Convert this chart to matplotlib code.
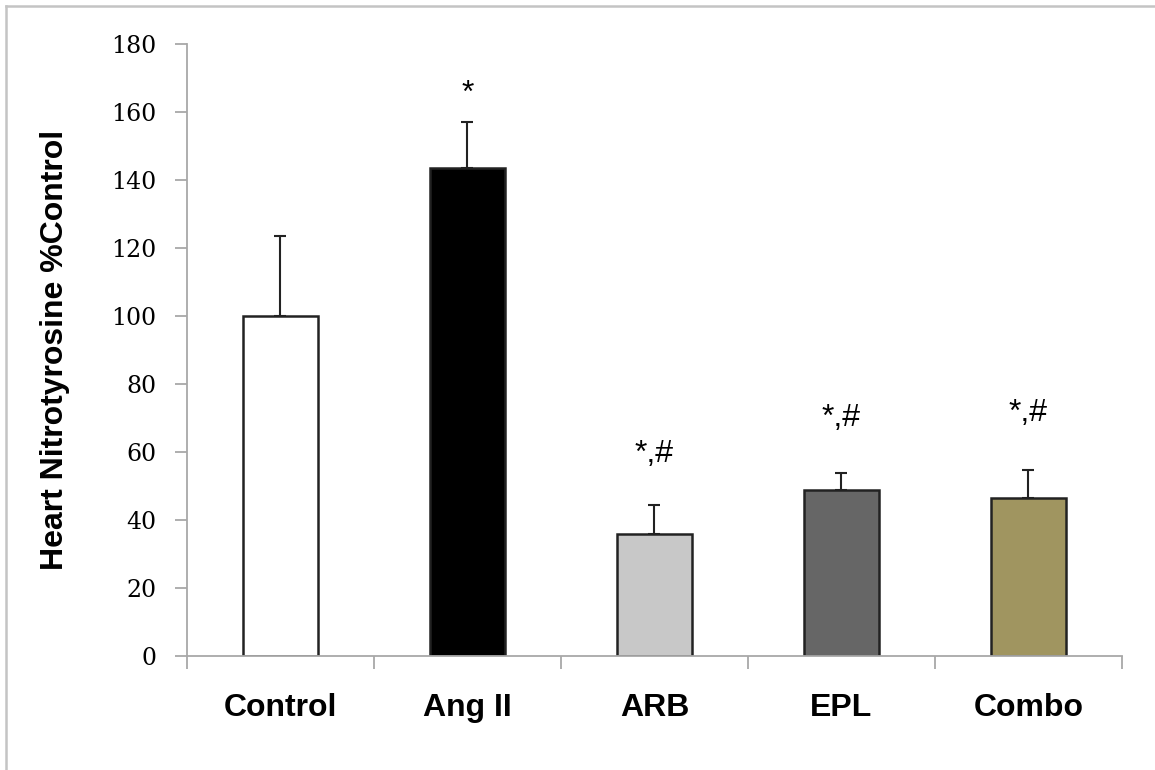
import numpy as np
import matplotlib.pyplot as plt
from matplotlib.lines import Line2D

# group data
groups = ["Control", "Ang II", "ARB", "EPL", "Combo"]
means = [100, 143.5, 36, 48.8, 46.5]
errors = [23.5, 13.5, 8.5, 5.0, 8.3]
bar_colors = ["#ffffff", "#000000", "#c8c8c8", "#666666", "#a09560"]
marks = ["", "*", "*,#", "*,#", "*,#"]
mark_y = [0, 163, 57, 67.5, 69]
y_ticks = [0, 20, 40, 60, 80, 100, 120, 140, 160, 180]

axis_gray = "#a8a8a8"

fig = plt.figure(figsize=(11.55, 7.7), dpi=100)
ax = fig.add_axes([0.1619, 0.1481, 0.8095, 0.7948])

x = np.arange(len(groups))
ax.bar(x, means, width=0.4, color=bar_colors, edgecolor="#222222", linewidth=1.8,
       zorder=2)
ax.errorbar(x, means, yerr=[np.zeros(len(errors)), errors], fmt="none",
            ecolor="#222222", elinewidth=1.5, capsize=4.5, capthick=1.5, zorder=1)

for xi, txt, yy in zip(x, marks, mark_y):
    if txt:
        ax.text(xi, yy, txt, ha="center", va="baseline", fontsize=23,
                family="Liberation Sans")

ax.set_xlim(-0.5, len(groups) - 0.5)
ax.set_ylim(0, 180)
ax.set_yticks(y_ticks)
ax.set_yticklabels([str(t) for t in y_ticks], family="DejaVu Serif", fontsize=17)
ax.tick_params(axis="y", length=9, width=1.3, color=axis_gray, pad=13)

ax.set_xticks(x)
ax.set_xticklabels(groups, family="Liberation Sans", fontweight="bold", fontsize=23)
ax.tick_params(axis="x", which="major", length=0, pad=27)
ax.set_xticks(np.arange(len(groups) + 1) - 0.5, minor=True)
ax.tick_params(axis="x", which="minor", length=9, width=1.3, color=axis_gray)

ax.set_ylabel("Heart Nitrotyrosine %Control", family="Liberation Sans",
              fontweight="bold", fontsize=23, labelpad=30)

for side in ["top", "right"]:
    ax.spines[side].set_visible(False)
for side in ["left", "bottom"]:
    ax.spines[side].set_color(axis_gray)
    ax.spines[side].set_linewidth(1.3)

# light outer frame (left and top edges only visible)
fig.add_artist(Line2D([6 / 1155, 6 / 1155], [0, 1 - 6 / 770], color="#c4c4c4",
                      linewidth=1.8, transform=fig.transFigure))
fig.add_artist(Line2D([6 / 1155, 1], [1 - 6 / 770, 1 - 6 / 770], color="#c4c4c4",
                      linewidth=1.8, transform=fig.transFigure))

fig.savefig("out.png", dpi=100)
